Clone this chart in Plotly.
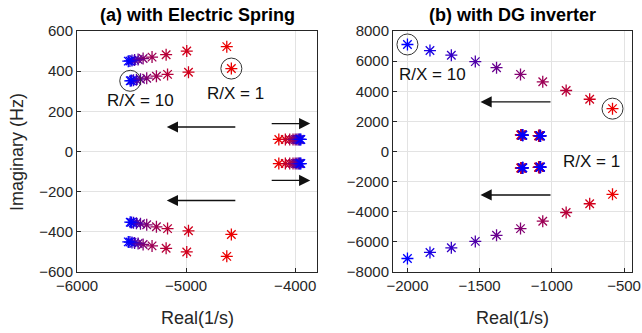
import plotly.graph_objects as go

# ---------------- data ----------------
rx_ratio = [1, 2, 3, 4, 5, 6, 7, 8, 9, 10]

# (a) Electric Spring: upper-frequency branch (conjugate pairs)
es_re_a = [-4627, -4994, -5183, -5312, -5394, -5440, -5472, -5496, -5515, -5530]
es_im_a = [522, 500, 482, 470, 463, 458, 455, 453, 451, 450]
# (a) lower-frequency branch
es_re_b = [-4585, -4978, -5170, -5272, -5361, -5418, -5455, -5482, -5500, -5512]
es_im_b = [413, 395, 384, 375, 365, 360, 357, 355, 353, 352]
# (a) near -4000 branch
es_re_c = [-4150, -4090, -4050, -4020, -4000, -3985, -3972, -3962, -3955, -3948]
es_im_c = [60, 60, 60, 60, 60, 60, 60, 60, 60, 60]

# (b) DG inverter: outer branch
dg_re_a = [-580, -738, -901, -1063, -1217, -1383, -1530, -1696, -1844, -2000]
dg_im_a = [2845, 3470, 4050, 4628, 5120, 5565, 5967, 6392, 6703, 7105]
# (b) inner branches
dg_re_b = [-1215, -1213, -1211, -1209, -1207, -1205, -1204, -1203, -1202, -1201]
dg_im_b = [1100, 1098, 1096, 1094, 1092, 1090, 1089, 1088, 1087, 1086]
dg_re_c = [-1092, -1090, -1088, -1086, -1084, -1082, -1081, -1080, -1079, -1078]
dg_im_c = [1050, 1048, 1046, 1044, 1042, 1040, 1039, 1038, 1037, 1036]


def colour(k):
    t = (k - 1) / 9.0
    return "rgb(%d,0,%d)" % (round(235 * (1 - t)), round(255 * t))


cols = [colour(k) for k in rx_ratio]
FONT = "Liberation Sans, Arial, sans-serif"

fig = go.Figure()


def add_branch(re, im, xa, ya):
    for sign in (1, -1):
        fig.add_trace(go.Scatter(
            x=re, y=[sign * v for v in im], mode="markers",
            xaxis=xa, yaxis=ya, showlegend=False, hoverinfo="skip",
            marker=dict(symbol="asterisk-open", size=10, color=cols,
                        line=dict(width=1.3))))


for re, im in ((es_re_a, es_im_a), (es_re_b, es_im_b), (es_re_c, es_im_c)):
    add_branch(re, im, "x", "y")
for re, im in ((dg_re_b, dg_im_b), (dg_re_c, dg_im_c), (dg_re_a, dg_im_a)):
    add_branch(re, im, "x2", "y2")

# circles marking R/X = 10 and R/X = 1
circ = dict(symbol="circle-open", size=21, color="#333333", line=dict(width=1))
fig.add_trace(go.Scatter(x=[es_re_b[9], es_re_b[0]], y=[es_im_b[9], es_im_b[0]],
                         mode="markers", marker=circ, xaxis="x", yaxis="y",
                         showlegend=False, hoverinfo="skip"))
fig.add_trace(go.Scatter(x=[dg_re_a[9], dg_re_a[0]], y=[dg_im_a[9], dg_im_a[0]],
                         mode="markers", marker=circ, xaxis="x2", yaxis="y2",
                         showlegend=False, hoverinfo="skip"))

ann = []


def arrow(xr, yr, x0, x1, y):
    ann.append(dict(x=x1, y=y, ax=x0, ay=y, xref=xr, yref=yr, axref=xr, ayref=yr,
                    showarrow=True, arrowhead=2, arrowsize=1.6, arrowwidth=1.4,
                    arrowcolor="#111111", text=""))


arrow("x", "y", -4535, -5177, 122)
arrow("x", "y", -4535, -5177, -244)
arrow("x", "y", -4229, -3862, 139)
arrow("x", "y", -4229, -3862, -144)
arrow("x2", "y2", -999, -1494, 3293)
arrow("x2", "y2", -999, -1494, -2885)


def label(xr, yr, x, y, t):
    ann.append(dict(x=x, y=y, xref=xr, yref=yr, text=t, showarrow=False,
                    font=dict(family=FONT, size=17, color="#111111")))


label("x", "y", -5420, 252, "R/X = 10")
label("x", "y", -4545, 287, "R/X = 1")
label("x2", "y2", -1827, 5080, "R/X = 10")
label("x2", "y2", -727, -676, "R/X = 1")

# titles and axis labels
for xc, t in ((197 / 642, "<b>(a) with Electric Spring</b>"), (512 / 642, "<b>(b) with DG inverter</b>")):
    ann.append(dict(x=xc, y=1 - 15 / 333, xref="paper", yref="paper", text=t,
                    xanchor="center", yanchor="middle",
                    showarrow=False, font=dict(family=FONT, size=18, color="#000000")))
for xc in (197 / 642, 512 / 642):
    ann.append(dict(x=xc, y=1 - 318 / 333, xref="paper", yref="paper", text="Real(1/s)",
                    xanchor="center", yanchor="middle",
                    showarrow=False, font=dict(family=FONT, size=18, color="#262626")))
ann.append(dict(x=17 / 642, y=1 - 152 / 333, xref="paper", yref="paper",
                text="Imaginary (Hz)", textangle=-90, showarrow=False,
                xanchor="center", yanchor="middle",
                font=dict(family=FONT, size=18, color="#262626")))

axis_common = dict(showline=True, mirror=True, linecolor="#262626", linewidth=1,
                   ticks="inside", ticklen=4, tickcolor="#262626", automargin=False,
                   showgrid=True, gridcolor="#e3e3e3", gridwidth=1, zeroline=False,
                   tickfont=dict(family=FONT, size=15, color="#262626"))

ydom = [1 - 272 / 333, 1 - 31 / 333]
fig.update_layout(
    width=642, height=333, margin=dict(l=0, r=0, t=0, b=0, autoexpand=False),
    paper_bgcolor="white", plot_bgcolor="white",
    xaxis=dict(domain=[77 / 642, 317 / 642], range=[-6000, -3800],
               tickvals=[-6000, -5000, -4000], anchor="y", **axis_common),
    yaxis=dict(domain=ydom, range=[-600, 600], tickvals=[-600, -400, -200, 0, 200, 400, 600],
               anchor="x", **axis_common),
    xaxis2=dict(domain=[393 / 642, 632 / 642], range=[-2100, -445],
                tickvals=[-2000, -1500, -1000, -500], anchor="y2", **axis_common),
    yaxis2=dict(domain=ydom, range=[-8000, 8000],
                tickvals=[-8000, -6000, -4000, -2000, 0, 2000, 4000, 6000, 8000],
                anchor="x2", **axis_common),
    annotations=ann,
)

fig.write_html("out.html", config={"displayModeBar": False},
               post_script="document.body.style.margin='0';")
